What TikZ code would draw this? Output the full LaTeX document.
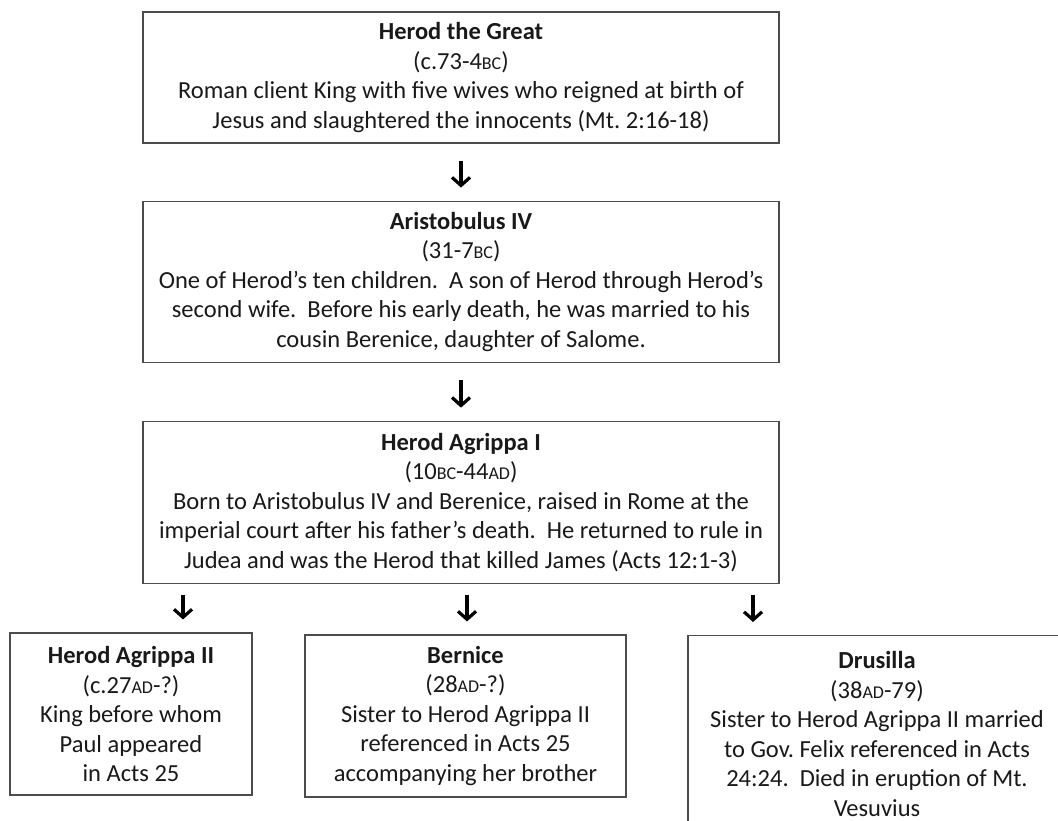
\documentclass[tikz,border=0pt]{standalone}
\usepackage{fontspec}
\setmainfont{Carlito}
\usetikzlibrary{positioning,arrows.meta}
\frenchspacing

\newcommand{\era}[1]{{\fontsize{18}{18}\selectfont #1}}

\tikzset{
	person/.style={draw=black!70, line width=1.1pt, align=center, inner sep=0pt,
		font=\fontsize{24.5}{29.5}\selectfont, text=black!90},
	descent/.style={-{Straight Barb[length=8pt,width=18pt]}, line width=3.2pt,
		shorten <=17pt, shorten >=13pt},
}

\begin{document}
\begin{tikzpicture}[x=1pt,y=-1pt]
	\useasboundingbox (0,0) rectangle (1058,821);
	\clip (0,0) rectangle (1058,821);
	% main line
	\node[person, minimum width=636pt, minimum height=131pt] (great) at (461,77.5)
		{\textbf{Herod the Great}\\(c.73-4\era{BC})\\Roman client King with five wives who reigned at birth of\\Jesus and slaughtered the innocents (Mt. 2:16-18)};
	\node[person, minimum width=636pt, minimum height=161pt, below=57pt of great] (aristo)
		{\textbf{Aristobulus IV}\\(31-7\era{BC})\\One of Herod’s ten children.\ \ A son of Herod through Herod’s\\second wife.\ \ Before his early death, he was married to his\\cousin Berenice, daughter of Salome.};
	\node[person, minimum width=636pt, minimum height=162pt, below=58pt of aristo] (agrippaI)
		{\textbf{Herod Agrippa I}\\(10\era{BC}-44\era{AD})\\Born to Aristobulus IV and Berenice, raised in Rome at the\\imperial court after his father’s death.\ \ He returned to rule in\\Judea and was the Herod that killed James (Acts 12:1-3)};
	% children
	\node[person, minimum width=242pt, minimum height=162pt] (agrippaII) at (131,714)
		{\textbf{Herod Agrippa II}\\(c.27\era{AD}-?)\\King before whom\\Paul appeared\\in Acts 25};
	\node[person, minimum width=321pt, minimum height=162pt] (bernice) at (465.5,716)
		{\textbf{Bernice}\\(28\era{AD}-?)\\Sister to Herod Agrippa II\\referenced in Acts 25\\accompanying her brother};
	\node[person, minimum width=378pt, minimum height=197pt, anchor=north] (drusilla) at (877,635)
		{\textbf{Drusilla}\\(38\era{AD}-79)\\Sister to Herod Agrippa II married\\to Gov. Felix referenced in Acts\\24:24.\ \ Died in eruption of Mt.\\Vesuvius};
	% arrows
	\coordinate (c1) at (183,0);
	\coordinate (c2) at (467,0);
	\coordinate (c3) at (753,0);
	\draw[descent] (great) -- (aristo);
	\draw[descent] (aristo) -- (agrippaI);
	\draw[descent, shorten <=11pt, shorten >=13pt] (agrippaI.south -| c1) -- (agrippaII.north -| c1);
	\draw[descent, shorten <=11pt, shorten >=13pt] (agrippaI.south -| c2) -- (bernice.north -| c2);
	\draw[descent, shorten <=11pt, shorten >=13pt] (agrippaI.south -| c3) -- (drusilla.north -| c3);
\end{tikzpicture}
\end{document}
